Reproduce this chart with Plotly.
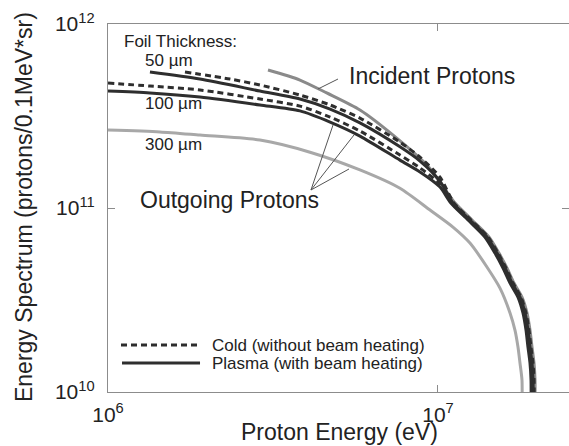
import plotly.graph_objects as go

# ---- data ----
inc_x = [3.054e6, 3.817e6, 4.60e6, 5.801e6, 7.31e6, 9.26e6, 1.014e7,
         1.126e7, 1.268e7, 1.427e7, 1.530e7, 1.618e7, 1.699e7, 1.797e7, 1.861e7, 1.900e7, 1.927e7, 1.954e7, 1.968e7, 1.968e7]
inc_y = [5.62e11, 4.96e11, 4.22e11, 3.41e11, 2.49e11, 1.71e11, 1.38e11,
         1.064e11, 8.61e10, 6.96e10, 5.69e10, 4.72e10, 3.91e10, 3.28e10, 2.69e10, 2.17e10, 1.76e10, 1.438e10, 1.16e10, 8e9]

c50_x = [1.711e6, 2.343e6, 2.888e6, 3.817e6, 4.71e6, 5.801e6, 7.670e6, 8.820e6, 1.014e7,
         1.118e7, 1.259e7, 1.417e7, 1.520e7, 1.607e7, 1.688e7, 1.784e7, 1.848e7, 1.887e7, 1.913e7, 1.940e7, 1.955e7, 1.955e7]
c50_y = [5.48e11, 5.02e11, 4.66e11, 4.11e11, 3.63e11, 3.08e11, 2.28e11, 1.89e11, 1.47e11,
         1.064e11, 8.61e10, 6.96e10, 5.69e10, 4.72e10, 3.91e10, 3.28e10, 2.69e10, 2.17e10, 1.76e10, 1.438e10, 1.16e10, 8e9]

p50_x = [1.340e6, 1.900e6, 2.888e6, 3.817e6, 4.71e6, 5.801e6, 7.670e6, 8.820e6, 1.014e7,
         1.110e7, 1.250e7, 1.407e7, 1.509e7, 1.596e7, 1.676e7, 1.772e7, 1.835e7, 1.874e7, 1.900e7, 1.927e7, 1.941e7, 1.941e7]
p50_y = [5.48e11, 5.02e11, 4.32e11, 3.91e11, 3.45e11, 2.90e11, 2.15e11, 1.80e11, 1.40e11,
         1.064e11, 8.61e10, 6.96e10, 5.69e10, 4.72e10, 3.91e10, 3.28e10, 2.69e10, 2.17e10, 1.76e10, 1.438e10, 1.16e10, 8e9]

c100_x = [1.0e6, 1.340e6, 1.900e6, 2.888e6, 3.817e6, 4.71e6, 5.801e6, 7.670e6, 8.820e6, 1.014e7,
          1.102e7, 1.241e7, 1.397e7, 1.498e7, 1.585e7, 1.664e7, 1.760e7, 1.822e7, 1.861e7, 1.887e7, 1.914e7, 1.927e7, 1.927e7]
c100_y = [4.78e11, 4.60e11, 4.38e11, 3.91e11, 3.58e11, 3.12e11, 2.62e11, 1.94e11, 1.65e11, 1.35e11,
          1.064e11, 8.61e10, 6.96e10, 5.69e10, 4.72e10, 3.91e10, 3.28e10, 2.69e10, 2.17e10, 1.76e10, 1.438e10, 1.16e10, 8e9]

p100_x = [1.0e6, 1.340e6, 1.900e6, 2.888e6, 3.817e6, 4.71e6, 5.801e6, 7.670e6, 8.820e6, 1.014e7,
          1.094e7, 1.233e7, 1.387e7, 1.488e7, 1.574e7, 1.653e7, 1.747e7, 1.809e7, 1.848e7, 1.873e7, 1.900e7, 1.914e7, 1.914e7]
p100_y = [4.32e11, 4.22e11, 4.01e11, 3.63e11, 3.37e11, 2.93e11, 2.46e11, 1.82e11, 1.57e11, 1.30e11,
          1.064e11, 8.61e10, 6.96e10, 5.69e10, 4.72e10, 3.91e10, 3.28e10, 2.69e10, 2.17e10, 1.76e10, 1.438e10, 1.16e10, 8e9]

t300_x = [1.0e6, 1.437e6, 1.900e6, 2.888e6, 4.094e6, 5.801e6, 7.670e6, 9.458e6, 1.110e7, 1.250e7,
          1.407e7, 1.541e7, 1.653e7, 1.711e7, 1.747e7, 1.772e7, 1.797e7, 1.797e7]
t300_y = [2.65e11, 2.59e11, 2.49e11, 2.34e11, 2.01e11, 1.61e11, 1.28e11, 9.75e10, 7.88e10, 6.45e10,
          4.78e10, 3.67e10, 2.69e10, 2.17e10, 1.76e10, 1.438e10, 1.16e10, 8e9]

x_ticks = [1e6, 1e7]
x_ticktext = ["10<sup>6</sup>", "10<sup>7</sup>"]
y_ticks = [1e10, 1e11, 1e12]
y_ticktext = ["10<sup>10\u00a0\u00a0</sup>", "10<sup>11\u00a0\u00a0</sup>", "10<sup>12\u00a0\u00a0</sup>"]

FONT = "Arial, Liberation Sans, sans-serif"
DARK = "#2e2e2e"

fig = go.Figure()

def curve(x, y, color, dash="solid"):
    fig.add_trace(go.Scatter(x=x, y=y, mode="lines", showlegend=False, hoverinfo="skip",
                             line=dict(color=color, width=3, dash=dash, shape="spline", smoothing=0.7)))

curve(t300_x, t300_y, "#a8a8a8")
curve(inc_x, inc_y, "#8a8a8a")
curve(p100_x, p100_y, DARK)
curve(c100_x, c100_y, DARK, "6px,4px")
curve(p50_x, p50_y, DARK)
curve(c50_x, c50_y, DARK, "6px,4px")

def ann(text, x, y, size, xanchor="left", angle=0):
    return dict(text=text, x=x, y=y, xref="paper", yref="paper", showarrow=False,
                xanchor=xanchor, yanchor="middle", textangle=angle,
                font=dict(size=size, color="#222", family=FONT))

annotations = [
    ann("Foil Thickness:", 0.0304, 0.9538, 17),
    ann("50 µm", 0.0759, 0.8995, 17),
    ann("100 µm", 0.0759, 0.7853, 17),
    ann("300 µm", 0.0759, 0.6712, 17),
    ann("Incident Protons", 0.5184, 0.8587, 23),
    ann("Outgoing Protons", 0.0651, 0.5217, 23),
    ann("Cold (without beam heating)", 0.2213, 0.1277, 17),
    ann("Plasma (with beam heating)", 0.2213, 0.0788, 17),
    ann("Proton Energy (eV)", 0.503, -0.1087, 23, xanchor="center"),
    ann("Energy Spectrum (protons/0.1MeV*sr)", -0.1822, 0.5027, 23, xanchor="center", angle=-90),
]

def seg(x0, y0, x1, y1, color="#555", width=1, dash="solid"):
    return dict(type="line", xref="paper", yref="paper", x0=x0, y0=y0, x1=x1, y1=y1,
                line=dict(color=color, width=width, dash=dash))

shapes = [
    seg(0.4989, 0.8505, 0.4555, 0.8234),
    seg(0.4403, 0.5489, 0.4881, 0.7255),
    seg(0.4403, 0.5489, 0.5336, 0.6984),
    seg(0.4403, 0.5489, 0.5228, 0.6060),
    seg(0.0282, 0.1277, 0.1931, 0.1277, color=DARK, width=3, dash="6px,4px"),
    seg(0.0304, 0.0788, 0.1996, 0.0788, color=DARK, width=3),
]

axis_common = dict(type="log", showgrid=False, zeroline=False, showline=True,
                   linecolor="#8c8c8c", linewidth=1, mirror="ticks",
                   ticks="inside", ticklen=7, tickcolor="#8c8c8c", automargin=False,
                   tickfont=dict(size=21, color="#222", family=FONT))

fig.update_layout(
    width=569, height=446,
    margin=dict(l=108, r=0, t=24, b=54),
    paper_bgcolor="white", plot_bgcolor="white",
    font=dict(family=FONT, color="#222"),
    xaxis=dict(axis_common, range=[6, 7.397], tickvals=x_ticks, ticktext=x_ticktext,
               ticklabelstandoff=4),
    yaxis=dict(axis_common, range=[10, 12], tickvals=y_ticks, ticktext=y_ticktext),
    annotations=annotations,
    shapes=shapes,
)

fig.write_html("out.html", config={"displayModeBar": False},
               post_script="document.body.style.margin='0';document.body.style.overflow='hidden';")
